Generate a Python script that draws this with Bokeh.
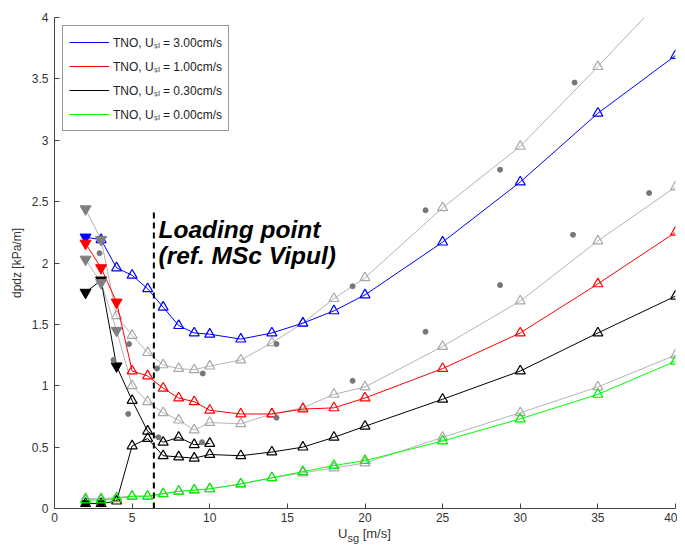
from bokeh.plotting import figure
from bokeh.models import Label, Legend, LegendItem, Range1d, FixedTicker, Div
from bokeh.layouts import column
from bokeh.embed import file_html
from bokeh.resources import INLINE

# ---------------- data ----------------
usg = [2, 3, 4, 5, 6, 7, 8, 9, 10, 12, 14, 16, 18, 20, 25, 30, 35, 40]

blue_y = [2.21, 2.19, 1.96, 1.90, 1.79, 1.64, 1.49, 1.43, 1.42, 1.38, 1.43, 1.51, 1.61, 1.74, 2.17, 2.66, 3.22, 3.69]
blue_nfilled = 1
red_y = [2.16, 1.96, 1.68, 1.12, 1.08, 0.98, 0.90, 0.87, 0.80, 0.77, 0.77, 0.81, 0.82, 0.90, 1.14, 1.43, 1.83, 2.25]
red_nfilled = 3
black_y = [0.04, 0.04, 0.06, 0.51, 0.57, 0.43, 0.42, 0.41, 0.44, 0.43, 0.46, 0.50, 0.58, 0.67, 0.89, 1.12, 1.43, 1.73]
black_nfilled = 2
green_y = [0.07, 0.07, 0.08, 0.10, 0.10, 0.12, 0.14, 0.15, 0.16, 0.20, 0.25, 0.30, 0.35, 0.39, 0.55, 0.73, 0.93, 1.20]

black_up_x = [2, 3, 4, 5, 6, 7, 8, 9, 10]
black_up_y = [1.76, 1.86, 1.16, 0.88, 0.63, 0.54, 0.58, 0.52, 0.53]
black_up_nfilled = 3

grayA_y = [2.44, 2.19, 1.57, 1.41, 1.27, 1.17, 1.14, 1.13, 1.16, 1.21, 1.35, 1.51, 1.71, 1.88, 2.45, 2.95, 3.60, 4.27]
grayA_nfilled = 2
grayB_y = [2.03, 1.84, 1.45, 1.00, 0.87, 0.78, 0.72, 0.64, 0.70, 0.69, 0.77, 0.82, 0.93, 0.99, 1.32, 1.69, 2.18, 2.62]
grayB_nfilled = 3
grayD_y = [0.08, 0.08, 0.09, 0.10, 0.10, 0.12, 0.14, 0.15, 0.16, 0.20, 0.25, 0.29, 0.33, 0.37, 0.58, 0.78, 0.99, 1.25]

dots_x = [2.9, 3.8, 4.8, 4.75, 6.6, 6.7, 9.55, 9.5, 14.3, 14.3, 19.2, 19.2, 23.9, 23.9, 28.7, 28.7, 33.5, 33.4, 38.3]
dots_y = [2.08, 1.21, 1.34, 0.77, 1.14, 0.58, 1.10, 0.54, 1.34, 0.74, 1.81, 1.04, 2.43, 1.44, 2.76, 1.82, 3.47, 2.23, 2.57]

loading_x = [6.4, 6.4]
loading_y = [0.0, 2.43]

legend_labels = ["TNO, U\u209b\u2097 = 3.00cm/s", "TNO, U\u209b\u2097 = 1.00cm/s",
                 "TNO, U\u209b\u2097 = 0.30cm/s", "TNO, U\u209b\u2097 = 0.00cm/s"]

x_ticks = [0, 5, 10, 15, 20, 25, 30, 35, 40]
x_tick_labels = ["0", "5", "10", "15", "20", "25", "30", "35", "40"]
y_ticks = [0, 0.5, 1, 1.5, 2, 2.5, 3, 3.5, 4]
y_tick_labels = ["0", "0.5", "1", "1.5", "2", "2.5", "3", "3.5", "4"]

FONT = "Liberation Sans"
TXT = "#333333"

p = figure(width=677, height=528, output_backend="svg", toolbar_location=None,
           x_range=Range1d(0, 40), y_range=Range1d(0, 4),
           min_border_left=54, min_border_right=2, min_border_top=17, min_border_bottom=20)
p.xgrid.visible = False
p.ygrid.visible = False
p.outline_line_color = None
p.background_fill_color = "white"
p.border_fill_color = "white"

for ax in (p.xaxis[0], p.yaxis[0]):
    ax.major_tick_in = 5
    ax.major_tick_out = 0
    ax.minor_tick_line_color = None
    ax.axis_line_color = "#444444"
    ax.major_tick_line_color = "#444444"
    ax.major_label_text_font = FONT
    ax.major_label_text_font_size = "12px"
    ax.major_label_text_color = TXT
p.xaxis.ticker = FixedTicker(ticks=x_ticks)
p.yaxis.ticker = FixedTicker(ticks=y_ticks)
p.xaxis.major_label_overrides = {t: l for t, l in zip(x_ticks, x_tick_labels)}
p.yaxis.major_label_overrides = {t: l for t, l in zip(y_ticks, y_tick_labels)}
p.xaxis.major_label_standoff = 4
p.yaxis.major_label_standoff = 6
p.yaxis.axis_label = "dpdz [kPa/m]"
p.yaxis.axis_label_text_font = FONT
p.yaxis.axis_label_text_font_size = "12px"
p.yaxis.axis_label_text_font_style = "normal"
p.yaxis.axis_label_text_color = TXT
p.yaxis.axis_label_standoff = 5

GRAY_LINE = "#b4b4b4"
GRAY_TRI = "#a8a8a8"
GRAY_FILL = "#7f7f7f"


def series(ys, xs, color, nfilled, fill_color, tri_color, draw_filled=True):
    r = p.line(xs, ys, line_color=color, line_width=1.0)
    if nfilled and draw_filled:
        p.scatter(xs[:nfilled], ys[:nfilled], marker="inverted_triangle", size=11,
                  fill_color=fill_color, line_color=fill_color)
    p.scatter(xs[nfilled:], ys[nfilled:], marker="triangle", size=10,
              fill_color=None, line_color=tri_color, line_width=1.2)
    return r


# gray model curves (lines and open markers drawn first)
series(grayA_y, usg, GRAY_LINE, grayA_nfilled, GRAY_FILL, GRAY_TRI, draw_filled=False)
series(grayB_y, usg, GRAY_LINE, grayB_nfilled, GRAY_FILL, GRAY_TRI, draw_filled=False)
series(grayD_y, usg, GRAY_LINE, 0, GRAY_FILL, GRAY_TRI)

# measured series
r_blue = series(blue_y, usg, "#0000ff", blue_nfilled, "#0000ff", "#0000ff")
r_red = series(red_y, usg, "#ff0000", red_nfilled, "#ff0000", "#ff0000")
series(black_up_y, black_up_x, "#000000", black_up_nfilled, "#000000", "#000000")
r_black = series(black_y, usg, "#000000", 0, "#000000", "#000000")
p.scatter(usg[:black_nfilled], black_y[:black_nfilled], marker="square", size=6,
          fill_color="black", line_color="black")
r_green = series(green_y, usg, "#00ff00", 0, "#00ff00", "#00ee00")

# gray filled markers on top
p.scatter(usg[:grayA_nfilled], grayA_y[:grayA_nfilled], marker="inverted_triangle", size=11,
          fill_color=GRAY_FILL, line_color=GRAY_FILL)
p.scatter(usg[:grayB_nfilled], grayB_y[:grayB_nfilled], marker="inverted_triangle", size=11,
          fill_color=GRAY_FILL, line_color=GRAY_FILL)

p.scatter(dots_x, dots_y, marker="circle", size=5, fill_color="#777777", line_color="#777777")

# loading point line and text
p.line(loading_x, loading_y, line_color="black", line_width=2, line_dash="6 4")
p.add_layout(Label(x=6.7, y=2.167, text="Loading point", text_font="Liberation Sans",
                   text_font_style="bold italic", text_font_size="24.5px", text_color="black"))
p.add_layout(Label(x=6.7, y=1.955, text="(ref. MSc Vipul)", text_font="Liberation Sans",
                   text_font_style="bold italic", text_font_size="24.5px", text_color="black"))

legend = Legend(items=[LegendItem(label=legend_labels[0], renderers=[r_blue]),
                       LegendItem(label=legend_labels[1], renderers=[r_red]),
                       LegendItem(label=legend_labels[2], renderers=[r_black]),
                       LegendItem(label=legend_labels[3], renderers=[r_green])],
                location="top_left")
legend.margin = 8
legend.padding = 6
legend.spacing = 4
legend.glyph_width = 40
legend.glyph_height = 20
legend.label_height = 20
legend.label_standoff = 4
legend.label_text_font = FONT
legend.label_text_font_size = "12px"
legend.label_text_color = "#222222"
legend.border_line_color = "#333333"
legend.border_line_width = 1
legend.background_fill_color = "white"
legend.background_fill_alpha = 1
p.add_layout(legend)

# x-axis label with subscript (HTML text below the plot)
xlabel = Div(text='U<sub style="font-size:11px">sg</sub> [m/s]', width=677, height=13,
             margin=(0, 0, 0, 0),
             styles={"padding-left": "338px", "font-family": FONT, "font-size": "13px",
                     "color": TXT, "line-height": "12px"})

layout = column(p, xlabel, spacing=0)
open("out.html", "w").write(file_html(layout, INLINE))
